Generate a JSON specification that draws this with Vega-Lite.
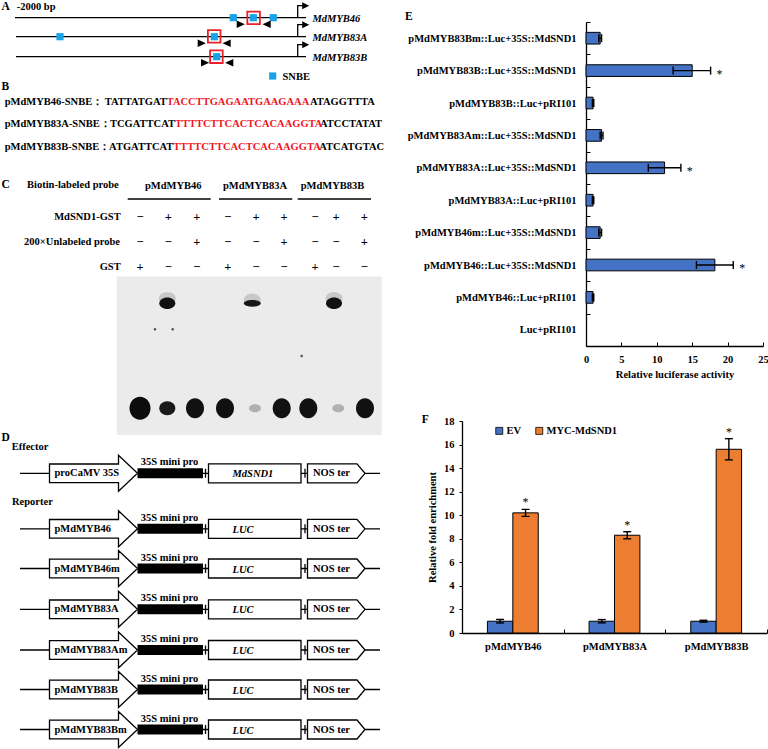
{
  "$schema": "https://vega.github.io/schema/vega-lite/v6.json",
  "padding": 0,
  "background": "white",
  "config": {
    "view": {"stroke": null},
    "font": "Liberation Serif",
    "axis": {"labelOverlap": false},
    "text": {"fontWeight": "bold", "fontSize": 10.5, "baseline": "middle", "color": "black"}
  },
  "datasets": {
    "promoters": [{"x": 297.7, "y": 17.7}, {"x": 297.7, "y": 36.7}, {"x": 297.7, "y": 56.7}],
    "constructs": [
      {"y": 473.3, "pro": "proCaMV 35S", "gene": "MdSND1"},
      {"y": 528.8, "pro": "pMdMYB46", "gene": "LUC"},
      {"y": 568.5, "pro": "pMdMYB46m", "gene": "LUC"},
      {"y": 609.3, "pro": "pMdMYB83A", "gene": "LUC"},
      {"y": 650, "pro": "pMdMYB83Am", "gene": "LUC"},
      {"y": 689.5, "pro": "pMdMYB83B", "gene": "LUC"},
      {"y": 729.5, "pro": "pMdMYB83Bm", "gene": "LUC"}
    ]
  },
  "concat": [
    {
      "width": 452,
      "height": 324,
      "encoding": {
        "x": {"field": "x", "type": "quantitative", "scale": {"domain": [0, 452], "nice": false, "zero": false}, "axis": null},
        "y": {"field": "y", "type": "quantitative", "scale": {"domain": [22, 346], "nice": false, "zero": false, "reverse": true}, "axis": null}
      },
      "resolve": {"scale": {"shape": "independent", "color": "independent"}},
      "layer": [
        {
          "data": {"values": [{"x": 0, "y": 0, "x2": 1, "y2": 1}]},
          "mark": {"type": "rect", "fill": "white"},
          "encoding": {"x2": {"field": "x2"}, "y2": {"field": "y2"}}
        },
        {
          "data": {"values": [{"x": 116.7, "x2": 381.7, "y": 276.5, "y2": 435}]},
          "mark": {"type": "rect", "fill": "#ebebeb"},
          "encoding": {"x2": {"field": "x2"}, "y2": {"field": "y2"}}
        },
        {
          "data": {"values": [
            {"x": 167.3, "y": 298.5, "cls": "halo"}, {"x": 334, "y": 298.5, "cls": "halo"}, {"x": 252.3, "y": 300, "cls": "halo"},
            {"x": 167.3, "y": 303.3, "cls": "shift"}, {"x": 252.3, "y": 303.3, "cls": "thin"}, {"x": 334, "y": 303.3, "cls": "shift"},
            {"x": 155, "y": 329.3, "cls": "speck"}, {"x": 172.7, "y": 329.3, "cls": "speck"}, {"x": 301.7, "y": 356, "cls": "speck"},
            {"x": 140, "y": 408.3, "cls": "big"}, {"x": 167.3, "y": 408.3, "cls": "medium"}, {"x": 195, "y": 408.3, "cls": "strong"},
            {"x": 225, "y": 408.3, "cls": "strong"}, {"x": 255, "y": 408.3, "cls": "faint"}, {"x": 281.7, "y": 408.3, "cls": "strong"},
            {"x": 308.3, "y": 408.3, "cls": "strong"}, {"x": 338.3, "y": 408.3, "cls": "faint"}, {"x": 365, "y": 408.3, "cls": "strong"}
          ]},
          "mark": {"type": "point", "filled": true, "size": 4, "opacity": 1},
          "encoding": {
            "shape": {"field": "cls", "type": "nominal", "legend": null, "scale": {
              "domain": ["big", "strong", "medium", "faint", "shift", "thin", "halo", "speck"],
              "range": [
                "M -10.5 0 A 10.5 11.5 0 1 0 10.5 0 A 10.5 11.5 0 1 0 -10.5 0 Z",
                "M -9 0 A 9 10 0 1 0 9 0 A 9 10 0 1 0 -9 0 Z",
                "M -8 0 A 8 7 0 1 0 8 0 A 8 7 0 1 0 -8 0 Z",
                "M -6 0 A 6 4 0 1 0 6 0 A 6 4 0 1 0 -6 0 Z",
                "M -8 0 A 8 5.8 0 1 0 8 0 A 8 5.8 0 1 0 -8 0 Z",
                "M -8.5 0 A 8.5 3.4 0 1 0 8.5 0 A 8.5 3.4 0 1 0 -8.5 0 Z",
                "M -8.5 0 A 8.5 6.5 0 1 0 8.5 0 A 8.5 6.5 0 1 0 -8.5 0 Z",
                "M -1.3 0 A 1.3 1.3 0 1 0 1.3 0 A 1.3 1.3 0 1 0 -1.3 0 Z"
              ]}},
            "color": {"field": "cls", "type": "nominal", "legend": null, "scale": {
              "domain": ["big", "strong", "medium", "faint", "shift", "thin", "halo", "speck"],
              "range": ["#0d0d0d", "#111111", "#1a1a1a", "#b0b0b0", "#111111", "#161616", "#c8c8c8", "#555555"]}}
          }
        },
        {
          "data": {"values": [
            {"x": 15, "x2": 306, "y": 17.7}, {"x": 16, "x2": 306, "y": 36.7}, {"x": 16, "x2": 306, "y": 56.7},
            {"x": 127.7, "x2": 210.7, "y": 199}, {"x": 219, "x2": 292.3, "y": 199}, {"x": 297.7, "x2": 371, "y": 199}
          ]},
          "mark": {"type": "rule", "color": "black", "strokeWidth": 1.3},
          "encoding": {"x2": {"field": "x2"}}
        },
        {
          "data": {"name": "promoters"},
          "mark": {"type": "point", "filled": false, "size": 4, "color": "black", "strokeWidth": 1.3, "opacity": 1, "shape": "M 0 0 L 0 -12 L 6 -12"},
          "encoding": {}
        },
        {
          "data": {"name": "promoters"},
          "mark": {"type": "point", "filled": true, "size": 4, "color": "black", "opacity": 1, "shape": "M 4.5 -15.5 L 11.5 -12 L 4.5 -8.5 Z"},
          "encoding": {}
        },
        {
          "data": {"values": [
            {"x": 233.3, "y": 17.7}, {"x": 253.3, "y": 17.7}, {"x": 273.3, "y": 17.7},
            {"x": 60, "y": 36.7}, {"x": 214.3, "y": 36.7}, {"x": 216.7, "y": 56.7}, {"x": 272.7, "y": 76}
          ]},
          "mark": {"type": "point", "filled": true, "size": 4, "color": "#19A3E6", "opacity": 1, "shape": "M -3.6 -3.6 L 3.6 -3.6 L 3.6 3.6 L -3.6 3.6 Z"},
          "encoding": {}
        },
        {
          "data": {"values": [{"x": 253.6, "y": 17.9}, {"x": 214.2, "y": 36.4}, {"x": 216.4, "y": 56.7}]},
          "mark": {"type": "point", "filled": false, "size": 4, "color": "#E8202A", "strokeWidth": 1.8, "opacity": 1, "shape": "M -6.3 -6.3 L 6.3 -6.3 L 6.3 6.3 L -6.3 6.3 Z"},
          "encoding": {}
        },
        {
          "data": {"values": [
            {"x": 240.7, "y": 24.3, "d": "fwd"}, {"x": 266.7, "y": 24.3, "d": "rev"},
            {"x": 201.7, "y": 43.3, "d": "fwd"}, {"x": 226.7, "y": 43.3, "d": "rev"},
            {"x": 205, "y": 62.7, "d": "fwd"}, {"x": 229.3, "y": 62.7, "d": "rev"}
          ]},
          "mark": {"type": "point", "filled": true, "size": 4, "color": "black", "opacity": 1},
          "encoding": {
            "shape": {"field": "d", "type": "nominal", "legend": null, "scale": {
              "domain": ["fwd", "rev"],
              "range": ["M -4 -3.8 L 4.2 0 L -4 3.8 Z", "M 4 -3.8 L -4.2 0 L 4 3.8 Z"]}}
          }
        },
        {
          "data": {"values": [
            {"x": 1.5, "y": 7, "t": "A"}, {"x": 1.5, "y": 87, "t": "B"}, {"x": 1.5, "y": 185, "t": "C"}, {"x": 405, "y": 17, "t": "E"}
          ]},
          "mark": {"type": "text", "align": "left", "fontSize": 11.5},
          "encoding": {"text": {"field": "t"}}
        },
        {
          "data": {"values": [
            {"x": 16.7, "y": 7, "t": "-2000 bp"}, {"x": 282.5, "y": 76.5, "t": "SNBE"},
            {"x": 4.7, "y": 101.7, "t": "pMdMYB46-SNBE："}, {"x": 4.7, "y": 124.3, "t": "pMdMYB83A-SNBE："}, {"x": 4.7, "y": 146.7, "t": "pMdMYB83B-SNBE："},
            {"x": 310, "y": 101.7, "t": "ATAGGTTTA"}, {"x": 320, "y": 124.3, "t": "ATCCTATAT"}, {"x": 319.3, "y": 146.7, "t": "ATCATGTAC"},
            {"x": 27, "y": 185, "t": "Biotin-labeled probe"}
          ]},
          "mark": {"type": "text", "align": "left"},
          "encoding": {"text": {"field": "t"}}
        },
        {
          "data": {"values": [
            {"x": 166.7, "y": 101.7, "t": "TACCTTGAGAATGAAGAAA"}, {"x": 175, "y": 124.3, "t": "TTTTCTTCACTCACAAGGTA"}, {"x": 173.3, "y": 146.7, "t": "TTTTCTTCACTCACAAGGTA"}
          ]},
          "mark": {"type": "text", "align": "left", "color": "#F0141E"},
          "encoding": {"text": {"field": "t"}}
        },
        {
          "data": {"values": [
            {"x": 166.7, "y": 101.7, "t": "TATTATGAT"}, {"x": 175, "y": 124.3, "t": "TCGATTCAT"}, {"x": 173.3, "y": 146.7, "t": "ATGATTCAT"},
            {"x": 120.7, "y": 216.7, "t": "MdSND1-GST"}, {"x": 120, "y": 241.7, "t": "200×Unlabeled probe"}, {"x": 120.7, "y": 267.3, "t": "GST"}
          ]},
          "mark": {"type": "text", "align": "right"},
          "encoding": {"text": {"field": "t"}}
        },
        {
          "data": {"values": [
            {"x": 173.3, "y": 186, "t": "pMdMYB46"}, {"x": 255, "y": 186, "t": "pMdMYB83A"}, {"x": 332.5, "y": 186, "t": "pMdMYB83B"}
          ]},
          "mark": {"type": "text", "align": "center"},
          "encoding": {"text": {"field": "t"}}
        },
        {
          "data": {"values": [
            {"x": 140, "y": 216.7, "t": "−"}, {"x": 168.3, "y": 216.7, "t": "+"}, {"x": 196.7, "y": 216.7, "t": "+"},
            {"x": 227.7, "y": 216.7, "t": "−"}, {"x": 256, "y": 216.7, "t": "+"}, {"x": 284, "y": 216.7, "t": "+"},
            {"x": 315, "y": 216.7, "t": "−"}, {"x": 336, "y": 216.7, "t": "+"}, {"x": 364.3, "y": 216.7, "t": "+"},
            {"x": 140, "y": 241.7, "t": "−"}, {"x": 168.3, "y": 241.7, "t": "−"}, {"x": 196.7, "y": 241.7, "t": "+"},
            {"x": 227.7, "y": 241.7, "t": "−"}, {"x": 256, "y": 241.7, "t": "−"}, {"x": 284, "y": 241.7, "t": "+"},
            {"x": 315, "y": 241.7, "t": "−"}, {"x": 336, "y": 241.7, "t": "−"}, {"x": 364.3, "y": 241.7, "t": "+"},
            {"x": 140, "y": 267.3, "t": "+"}, {"x": 168.3, "y": 267.3, "t": "−"}, {"x": 196.7, "y": 267.3, "t": "−"},
            {"x": 227.7, "y": 267.3, "t": "+"}, {"x": 256, "y": 267.3, "t": "−"}, {"x": 284, "y": 267.3, "t": "−"},
            {"x": 315, "y": 267.3, "t": "+"}, {"x": 336, "y": 267.3, "t": "−"}, {"x": 364.3, "y": 267.3, "t": "−"}
          ]},
          "mark": {"type": "text", "align": "center", "fontSize": 12.5},
          "encoding": {"text": {"field": "t"}}
        },
        {
          "data": {"values": [
            {"x": 312.5, "y": 18.5, "t": "MdMYB46"}, {"x": 312.5, "y": 37.5, "t": "MdMYB83A"}, {"x": 312.5, "y": 58, "t": "MdMYB83B"}
          ]},
          "mark": {"type": "text", "align": "left", "fontStyle": "italic"},
          "encoding": {"text": {"field": "t"}}
        }
      ]
    },
    {
      "hconcat": [
        {
          "width": 114,
          "height": 324,
          "data": {"values": [{"k": 0}]},
          "mark": {"type": "text", "text": ""},
          "encoding": {}
        },
        {
          "width": 177,
          "height": 324,
          "data": {"values": [
            {"c": "pMdMYB83Bm::Luc+35S::MdSND1", "v": 2.0, "lo": 1.8, "hi": 2.2, "sig": ""},
            {"c": "pMdMYB83B::Luc+35S::MdSND1", "v": 15.0, "lo": 12.3, "hi": 17.6, "sig": "*"},
            {"c": "pMdMYB83B::Luc+pRI101", "v": 1.0, "lo": 0.9, "hi": 1.1, "sig": ""},
            {"c": "pMdMYB83Am::Luc+35S::MdSND1", "v": 2.2, "lo": 2.0, "hi": 2.4, "sig": ""},
            {"c": "pMdMYB83A::Luc+35S::MdSND1", "v": 11.1, "lo": 8.8, "hi": 13.4, "sig": "*"},
            {"c": "pMdMYB83A::Luc+pRI101", "v": 1.0, "lo": 0.9, "hi": 1.1, "sig": ""},
            {"c": "pMdMYB46m::Luc+35S::MdSND1", "v": 2.0, "lo": 1.8, "hi": 2.2, "sig": ""},
            {"c": "pMdMYB46::Luc+35S::MdSND1", "v": 18.2, "lo": 15.6, "hi": 20.8, "sig": "*"},
            {"c": "pMdMYB46::Luc+pRI101", "v": 1.0, "lo": 0.9, "hi": 1.1, "sig": ""},
            {"c": "Luc+pRI101", "v": null, "lo": null, "hi": null, "sig": ""}
          ]},
          "encoding": {
            "y": {"field": "c", "type": "nominal",
              "scale": {"domain": ["pMdMYB83Bm::Luc+35S::MdSND1", "pMdMYB83B::Luc+35S::MdSND1", "pMdMYB83B::Luc+pRI101", "pMdMYB83Am::Luc+35S::MdSND1", "pMdMYB83A::Luc+35S::MdSND1", "pMdMYB83A::Luc+pRI101", "pMdMYB46m::Luc+35S::MdSND1", "pMdMYB46::Luc+35S::MdSND1", "pMdMYB46::Luc+pRI101", "Luc+pRI101"], "paddingInner": 0, "paddingOuter": 0},
              "axis": {"title": null, "labelFontSize": 10.5, "labelFontWeight": "bold", "labelColor": "black", "labelLimit": 400, "labelOverlap": false, "tickBand": "extent", "tickSize": -4, "tickColor": "black", "labelPadding": 14, "domainColor": "black", "domainWidth": 1.3}}
          },
          "layer": [
            {
              "mark": {"type": "bar", "height": {"band": 0.36}, "fill": "#4472C4", "stroke": "black", "strokeWidth": 1},
              "encoding": {"x": {"field": "v", "type": "quantitative", "title": "Relative luciferase activity",
                "scale": {"domain": [0, 25], "nice": false},
                "axis": {"values": [0, 5, 10, 15, 20, 25], "tickCount": 30, "format": "d", "grid": false, "labelOverlap": false, "labelFontSize": 10.5, "labelFontWeight": "bold", "labelColor": "black", "labelFlush": false, "tickSize": -4, "tickColor": "black", "labelPadding": 12, "domainColor": "black", "domainWidth": 1.3, "titleFontSize": 10.5, "titleFontWeight": "bold", "titleColor": "black", "titlePadding": 5}}}
            },
            {
              "mark": {"type": "rule", "color": "black", "strokeWidth": 1.4},
              "encoding": {"x": {"field": "lo", "type": "quantitative", "title": "Relative luciferase activity"}, "x2": {"field": "hi"}}
            },
            {
              "mark": {"type": "tick", "orient": "vertical", "size": 8, "thickness": 1.4, "color": "black", "opacity": 1},
              "encoding": {"x": {"field": "lo", "type": "quantitative", "title": "Relative luciferase activity"}}
            },
            {
              "mark": {"type": "tick", "orient": "vertical", "size": 8, "thickness": 1.4, "color": "black", "opacity": 1},
              "encoding": {"x": {"field": "hi", "type": "quantitative", "title": "Relative luciferase activity"}}
            },
            {
              "mark": {"type": "text", "dx": 9, "dy": 3, "fontSize": 12, "fontWeight": "normal"},
              "encoding": {"x": {"field": "hi", "type": "quantitative", "title": "Relative luciferase activity"}, "text": {"field": "sig"}}
            }
          ]
        }
      ],
      "spacing": 10,
      "bounds": "flush",
      "resolve": {"scale": {"x": "independent", "y": "independent"}}
    },
    {
      "width": 452,
      "height": 212,
      "encoding": {
        "y": {"field": "y", "type": "quantitative", "scale": {"domain": [421, 633], "nice": false, "zero": false, "reverse": true}, "axis": null}
      },
      "layer": [
        {
          "data": {"values": [{"x": 1.5, "y": 437.7, "t": "D"}, {"x": 421.7, "y": 420, "t": "F"}]},
          "mark": {"type": "text", "align": "left", "fontSize": 11.5},
          "encoding": {"x": {"field": "x", "type": "quantitative", "scale": {"domain": [0, 452], "nice": false, "zero": false}, "axis": null}, "text": {"field": "t"}}
        },
        {
          "data": {"values": [{"x": 11.7, "y": 447, "t": "Effector"}, {"x": 12, "y": 501.7, "t": "Reporter"}]},
          "mark": {"type": "text", "align": "left"},
          "encoding": {"x": {"field": "x", "type": "quantitative", "scale": {"domain": [0, 452], "nice": false, "zero": false}, "axis": null}, "text": {"field": "t"}}
        },
        {
          "data": {"name": "constructs"},
          "mark": {"type": "point", "size": 4, "filled": true, "fill": "white", "stroke": "black", "strokeWidth": 1.3, "strokeJoin": "miter", "opacity": 1,
            "shape": "M 20 0 L 49.5 0 M 49.5 -9.3 L 118.5 -9.3 L 118.5 -18 L 137.5 0 L 118.5 18 L 118.5 9.3 L 49.5 9.3 Z M 203 0 L 208.5 0 M 205.5 -4.5 L 205.5 4.5 M 208.5 -9.5 L 301 -9.5 L 301 9.5 L 208.5 9.5 Z M 301 0 L 307.5 0 M 305 -4.5 L 305 4.5 M 307.5 -9.5 L 357 -9.5 L 365 0 L 357 9.5 L 307.5 9.5 Z M 365 0 L 380 0"},
          "encoding": {"x": {"datum": 0, "type": "quantitative", "scale": {"domain": [0, 452], "nice": false, "zero": false}, "axis": null}}
        },
        {
          "data": {"name": "constructs"},
          "mark": {"type": "point", "size": 4, "filled": true, "color": "black", "opacity": 1,
            "shape": "M 137.5 -5 L 203 -5 L 203 5 L 137.5 5 Z"},
          "encoding": {"x": {"datum": 0, "type": "quantitative", "scale": {"domain": [0, 452], "nice": false, "zero": false}, "axis": null}}
        },
        {
          "data": {"name": "constructs"},
          "mark": {"type": "text", "align": "left"},
          "encoding": {"x": {"datum": 54.5, "type": "quantitative", "scale": {"domain": [0, 452], "nice": false, "zero": false}, "axis": null}, "text": {"field": "pro"}}
        },
        {
          "data": {"name": "constructs"},
          "mark": {"type": "text", "align": "center", "dy": -11, "text": "35S mini pro"},
          "encoding": {"x": {"datum": 169.5, "type": "quantitative", "scale": {"domain": [0, 452], "nice": false, "zero": false}, "axis": null}}
        },
        {
          "data": {"name": "constructs"},
          "mark": {"type": "text", "align": "left", "fontStyle": "italic", "dy": 1},
          "encoding": {"x": {"datum": 232.5, "type": "quantitative", "scale": {"domain": [0, 452], "nice": false, "zero": false}, "axis": null}, "text": {"field": "gene"}}
        },
        {
          "data": {"name": "constructs"},
          "mark": {"type": "text", "align": "left", "text": "NOS ter"},
          "encoding": {"x": {"datum": 313, "type": "quantitative", "scale": {"domain": [0, 452], "nice": false, "zero": false}, "axis": null}}
        }
      ]
    },
    {
      "width": 305,
      "height": 212,
      "data": {"values": [
        {"p": "pMdMYB46", "g": "EV", "v": 1.0, "lo": 0.85, "hi": 1.15, "sig": ""},
        {"p": "pMdMYB46", "g": "MYC-MdSND1", "v": 10.2, "lo": 9.9, "hi": 10.5, "sig": "*"},
        {"p": "pMdMYB83A", "g": "EV", "v": 1.0, "lo": 0.86, "hi": 1.14, "sig": ""},
        {"p": "pMdMYB83A", "g": "MYC-MdSND1", "v": 8.3, "lo": 8.0, "hi": 8.6, "sig": "*"},
        {"p": "pMdMYB83B", "g": "EV", "v": 1.0, "lo": 0.92, "hi": 1.08, "sig": ""},
        {"p": "pMdMYB83B", "g": "MYC-MdSND1", "v": 15.6, "lo": 14.7, "hi": 16.5, "sig": "*"}
      ]},
      "encoding": {
        "x": {"field": "p", "type": "nominal", "scale": {"paddingInner": 0, "paddingOuter": 0},
          "axis": {"title": null, "labelAngle": 0, "labelOverlap": false, "labelFontSize": 10.5, "labelFontWeight": "bold", "labelColor": "black", "tickBand": "extent", "tickSize": -4, "tickColor": "black", "labelPadding": 12, "domainColor": "black", "domainWidth": 1.3}},
        "xOffset": {"field": "g", "type": "nominal", "scale": {"paddingInner": 0, "paddingOuter": 1}}
      },
      "layer": [
        {
          "mark": {"type": "bar", "stroke": "black", "strokeWidth": 1},
          "encoding": {
            "y": {"field": "v", "type": "quantitative", "title": "Relative fold enrichment",
              "scale": {"domain": [0, 18], "nice": false},
              "axis": {"values": [0, 2, 4, 6, 8, 10, 12, 14, 16, 18], "tickCount": 30, "format": "d", "grid": false, "labelOverlap": false, "labelFontSize": 10.5, "labelFontWeight": "bold", "labelColor": "black", "tickSize": 3, "tickColor": "black", "labelPadding": 5, "domainColor": "black", "domainWidth": 1.3, "titleFontSize": 10.5, "titleFontWeight": "bold", "titleColor": "black", "titlePadding": 6}},
            "color": {"field": "g", "type": "nominal",
              "scale": {"domain": ["EV", "MYC-MdSND1"], "range": ["#4472C4", "#ED7D31"]},
              "legend": {"title": null, "orient": "none", "legendX": 32, "legendY": 4.5, "direction": "horizontal", "symbolType": "square", "symbolSize": 49, "symbolStrokeColor": "black", "symbolStrokeWidth": 0.8, "labelFontSize": 10.5, "labelFontWeight": "bold", "labelColor": "black", "labelOffset": 2, "columnPadding": 12, "padding": 0}}
          }
        },
        {
          "mark": {"type": "rule", "color": "black", "strokeWidth": 1.4},
          "encoding": {"y": {"field": "lo", "type": "quantitative", "title": "Relative fold enrichment"}, "y2": {"field": "hi"}}
        },
        {
          "mark": {"type": "tick", "orient": "horizontal", "size": 8, "thickness": 1.4, "color": "black", "opacity": 1},
          "encoding": {"y": {"field": "lo", "type": "quantitative", "title": "Relative fold enrichment"}}
        },
        {
          "mark": {"type": "tick", "orient": "horizontal", "size": 8, "thickness": 1.4, "color": "black", "opacity": 1},
          "encoding": {"y": {"field": "hi", "type": "quantitative", "title": "Relative fold enrichment"}}
        },
        {
          "mark": {"type": "text", "dy": -7, "fontSize": 12, "fontWeight": "normal"},
          "encoding": {"y": {"field": "hi", "type": "quantitative", "title": "Relative fold enrichment"}, "text": {"field": "sig"}}
        }
      ]
    }
  ],
  "columns": 2,
  "bounds": "flush",
  "spacing": {"row": 75, "column": 10},
  "resolve": {"scale": {"x": "independent", "y": "independent", "color": "independent", "shape": "independent"}}
}
